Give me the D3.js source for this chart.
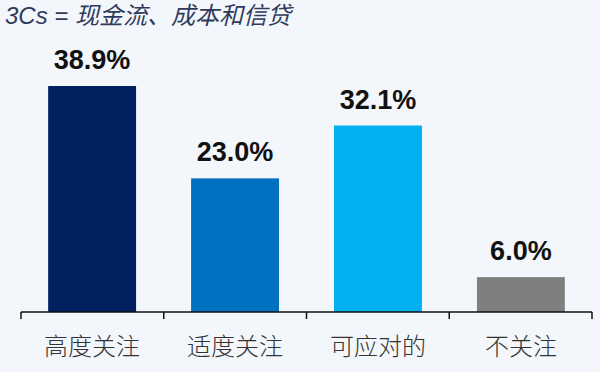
<!DOCTYPE html>
<html lang="zh">
  <head>
    <meta charset="utf-8">
    <title></title>
    <style>
      body { margin: 0; background: #f3f6fa; }
      svg { display: block; }
    </style>
  </head>
  <body>
    <svg width="600" height="372"></svg>
  </body>
  <script src="https://cdn.jsdelivr.net/npm/d3@7"></script>
  <script type="text/javascript">

    const categories = ["高度关注", "适度关注", "可应对的", "不关注"],
          values = [38.9, 23.0, 32.1, 6.0],
          colors = ["#002060", "#0070c0", "#00b0f0", "#7f7f7f"]

    const margin = {top: 20, bottom: 60, left: 21, right: 8},
          width = 600,
          height = 372,
          svg = d3.select("svg")

    const baseline = 312

    const x = d3.scaleBand().domain(categories).range([margin.left, width - margin.right]).paddingInner(0.385).paddingOuter(0.19),
          y = d3.scaleLinear().domain([0, 38.9]).range([baseline, 86])

    const data = categories.map((c, i) => ({cat: c, value: values[i], color: colors[i]}))

    // title
    svg.append("text")
      .text("3Cs = 现金流、成本和信贷")
      .attr("x", 5)
      .attr("y", 24)
      .style("font-family", "'Liberation Sans', 'Noto Sans CJK SC', sans-serif")
      .style("font-style", "italic")
      .style("font-size", "24px")
      .style("fill", "#2f3b5e")

    const bars = svg.selectAll("g.bar")
      .data(data)
      .enter()
      .append("g")
        .attr("class", "bar")

    bars.append("rect")
      .attr("x", d => x(d.cat))
      .attr("y", d => y(d.value))
      .attr("width", x.bandwidth())
      .attr("height", d => baseline - y(d.value))
      .style("fill", d => d.color)

    bars.append("text")
      .text(d => d.value.toFixed(1) + "%")
      .attr("x", d => x(d.cat) + x.bandwidth() / 2)
      .attr("y", d => y(d.value) - 17)
      .attr("text-anchor", "middle")
      .style("font-family", "'Liberation Sans', Arial, sans-serif")
      .style("font-weight", 700)
      .style("font-size", "27px")
      .style("fill", "#111")

    // axis: band labels, ticks on band edges
    const axis = svg.append("g")
      .attr("transform", `translate(0,${baseline})`)
      .call(d3.axisBottom(x).tickSize(0).tickPadding(26))

    axis.select(".domain").remove()
    axis.selectAll("text")
      .style("font-family", "'Noto Sans CJK SC', sans-serif")
      .style("font-size", "24px")
      .style("font-weight", 300)
      .style("fill", "#333")

    const edges = d3.range(categories.length + 1).map(i => margin.left + i * (width - margin.right - margin.left) / categories.length)

    svg.append("line")
      .attr("x1", edges[0]).attr("x2", edges[edges.length - 1])
      .attr("y1", baseline).attr("y2", baseline)
      .style("stroke", "#111").style("stroke-width", 1.5)

    svg.selectAll("line.tick-edge")
      .data(edges)
      .enter()
      .append("line")
        .attr("class", "tick-edge")
        .attr("x1", d => d).attr("x2", d => d)
        .attr("y1", baseline).attr("y2", baseline + 7)
        .style("stroke", "#111").style("stroke-width", 1.5)

  </script>
</html>
